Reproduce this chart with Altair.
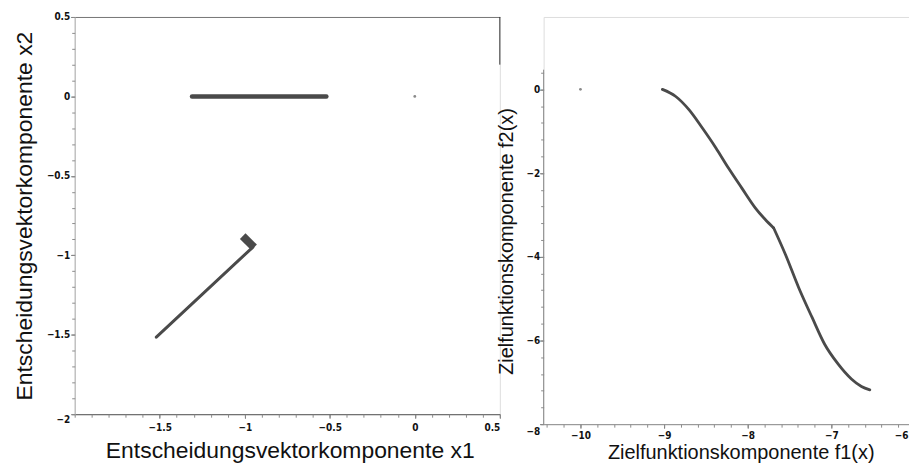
import altair as alt
import pandas as pd

# ---------------- left panel: decision space ----------------
seg_a_x1 = [-1.31, -0.52]
seg_a_x2 = [0.0, 0.0]
seg_b_x1 = [-1.52, -0.952]
seg_b_x2 = [-1.515, -0.948]
blob_x1 = [-1.012, -0.945]
blob_x2 = [-0.879, -0.950]
iso_x1 = [0.0]
iso_x2 = [0.0]

left_major_x = [-1.5, -1.0, -0.5, 0.0, 0.5]
left_major_y = [0.5, 0.0, -0.5, -1.0, -1.5, -2.0]
left_minor_x = [round(-2 + 0.1 * i, 2) for i in range(26)]
left_minor_y = [round(-2 + 0.1 * i, 2) for i in range(26)]
left_frame_x = [0.5]
left_frame_y = [0.5, 0.2]

# ---------------- right panel: objective space ----------------
f1_upper = [-9.02, -8.86, -8.70, -8.54, -8.38, -8.23, -8.07, -7.91, -7.79, -7.69]
f2_upper = [0.0, -0.17, -0.49, -0.93, -1.40, -1.88, -2.36, -2.83, -3.11, -3.31]
f1_lower = [-7.69, -7.55, -7.39, -7.23, -7.08, -6.92, -6.76, -6.64, -6.54]
f2_lower = [-3.31, -3.94, -4.74, -5.45, -6.09, -6.56, -6.92, -7.10, -7.18]
iso_f1 = [-10.0]
iso_f2 = [0.0]

right_major_x = [-10, -9, -8, -7, -6]
right_major_y = [0, -2, -4, -6, -8]
right_minor_x = [round(-10.4 + 0.2 * i, 2) for i in range(23)]
right_minor_y = [round(-8 + 0.4 * i, 2) for i in range(22)]
right_axis_f1 = [-10.44]
right_axis_f2 = [-8.0, 0.47]

LINE = "#4a4a4a"
DOT = "#8a8a8a"
AX = "#8c8c8c"
TICKF = "DejaVu Sans Condensed, Liberation Sans Narrow, sans-serif"
TITLEF = "Liberation Sans, Arial, sans-serif"

lx = alt.Scale(domain=[-2, 0.5], nice=False, zero=False)
ly = alt.Scale(domain=[-2, 0.5], nice=False, zero=False)
rx = alt.Scale(domain=[-10.44, -6], nice=False, zero=False)
ry = alt.Scale(domain=[-8, 1.73], nice=False, zero=False)


def seg_df(xs, ys):
    return pd.DataFrame({"x": xs, "y": ys, "o": list(range(len(xs)))})


lab = dict(labelFont=TICKF, labelFontSize=10, labelFontWeight="bold",
           labelColor="#111", tickColor="#666", grid=False)
ttl = dict(titleFont=TITLEF, titleFontWeight="normal", titleColor="#111")

# left axes
lx_major = alt.Axis(values=left_major_x, orient="bottom", tickSize=4, labelPadding=4,
                    format="~g",
                    title="Entscheidungsvektorkomponente x1", titleFontSize=23,
                    titlePadding=7, titleX=216, domainColor="#555", **ttl, **lab)
ly_major = alt.Axis(values=left_major_y, orient="left", tickSize=4, labelPadding=1,
                    format="~g",
                    title="Entscheidungsvektorkomponente x2", titleFontSize=23,
                    titlePadding=10, domainColor="#b0b0b0",
                    labelOffset={"condition": {"test": "datum.value == -2", "value": 5}, "value": 0},
                    **ttl, **lab)
lx_minor = alt.Axis(values=left_minor_x, orient="bottom", tickSize=3, labels=False,
                    domain=False, title=None, tickColor=AX, grid=False)
ly_minor = alt.Axis(values=left_minor_y, orient="left", tickSize=3, labels=False,
                    domain=False, title=None, tickColor=AX, grid=False)
lx_top = alt.Axis(orient="top", ticks=False, labels=False, domain=True,
                  domainColor="#777", title=None, grid=False)

left_a = alt.Chart(seg_df(seg_a_x1, seg_a_x2)).mark_line(
    color=LINE, strokeWidth=4.5, strokeCap="round").encode(
    x=alt.X("x:Q", scale=lx, axis=lx_major),
    y=alt.Y("y:Q", scale=ly, axis=ly_major), order="o:O")
left_b = alt.Chart(seg_df(seg_b_x1, seg_b_x2)).mark_line(
    color=LINE, strokeWidth=3, strokeCap="round").encode(
    x=alt.X("x:Q", scale=lx, axis=lx_minor),
    y=alt.Y("y:Q", scale=ly, axis=ly_minor), order="o:O")
left_blob = alt.Chart(seg_df(blob_x1, blob_x2)).mark_line(
    color=LINE, strokeWidth=8, strokeCap="butt").encode(
    x=alt.X("x:Q", scale=lx, axis=lx_top),
    y=alt.Y("y:Q", scale=ly, axis=None), order="o:O")
left_pt = alt.Chart(pd.DataFrame({"x": iso_x1, "y": iso_x2})).mark_circle(
    color=DOT, size=8, opacity=1).encode(
    x=alt.X("x:Q", scale=lx, axis=None), y=alt.Y("y:Q", scale=ly, axis=None))
left_frame = alt.Chart(pd.DataFrame({"x": left_frame_x * 2, "y": left_frame_y})).mark_line(
    color="#333", strokeWidth=1).encode(
    x=alt.X("x:Q", scale=lx, axis=None), y=alt.Y("y:Q", scale=ly, axis=None))

left = alt.layer(left_a, left_b, left_blob, left_pt, left_frame).resolve_axis(
    x="independent", y="independent").properties(width=427, height=399)

# right axes
rx_major = alt.Axis(values=right_major_x, orient="bottom", tickSize=4, labelPadding=2,
                    format="d",
                    title="Zielfunktionskomponente f1(x)", titleFontSize=20,
                    titlePadding=2, titleX=198, labelFlush=True, domainColor=AX,
                    labelOffset={"condition": {"test": "datum.value == -6", "value": -7}, "value": 0},
                    **ttl, **lab)
ry_major = alt.Axis(values=right_major_y, orient="left", tickSize=4, labelPadding=0,
                    domain=False, format="d",
                    title="Zielfunktionskomponente f2(x)", titleFontSize=20,
                    titlePadding=9, titleY=225,
                    labelOffset={"condition": {"test": "datum.value == -8", "value": 7}, "value": 0},
                    **ttl, **lab)
rx_minor = alt.Axis(values=right_minor_x, orient="bottom", tickSize=3, labels=False,
                    domain=False, title=None, tickColor=AX, grid=False)
ry_minor = alt.Axis(values=right_minor_y, orient="left", tickSize=3, labels=False,
                    domain=False, title=None, tickColor=AX, grid=False)

curve_df = pd.DataFrame({
    "x": f1_upper + f1_lower,
    "y": f2_upper + f2_lower,
    "b": ["upper"] * len(f1_upper) + ["lower"] * len(f1_lower),
    "o": list(range(len(f1_upper) + len(f1_lower))),
})
right_curve = alt.Chart(curve_df).mark_line(
    color=LINE, strokeWidth=2.8, strokeCap="round", interpolate="monotone").encode(
    x=alt.X("x:Q", scale=rx, axis=rx_major),
    y=alt.Y("y:Q", scale=ry, axis=ry_major), detail="b:N", order="o:O")
right_pt = alt.Chart(pd.DataFrame({"x": iso_f1, "y": iso_f2})).mark_circle(
    color=DOT, size=8, opacity=1).encode(
    x=alt.X("x:Q", scale=rx, axis=rx_minor),
    y=alt.Y("y:Q", scale=ry, axis=ry_minor))
right_axis = alt.Chart(pd.DataFrame({"x": right_axis_f1 * 2, "y": right_axis_f2})).mark_line(
    color=AX, strokeWidth=1).encode(
    x=alt.X("x:Q", scale=rx, axis=None), y=alt.Y("y:Q", scale=ry, axis=None))

right = alt.layer(right_curve, right_pt, right_axis).resolve_axis(
    x="independent", y="independent").properties(width=373, height=409)

chart = alt.hconcat(left, right, spacing=44, bounds="flush").properties(
    padding={"left": 5, "top": 2, "right": -7, "bottom": 0}
).configure_view(stroke=None).configure_axis(grid=False).configure(background="white")

chart.save("out.html", embed_options={"renderer": "svg", "actions": False})
